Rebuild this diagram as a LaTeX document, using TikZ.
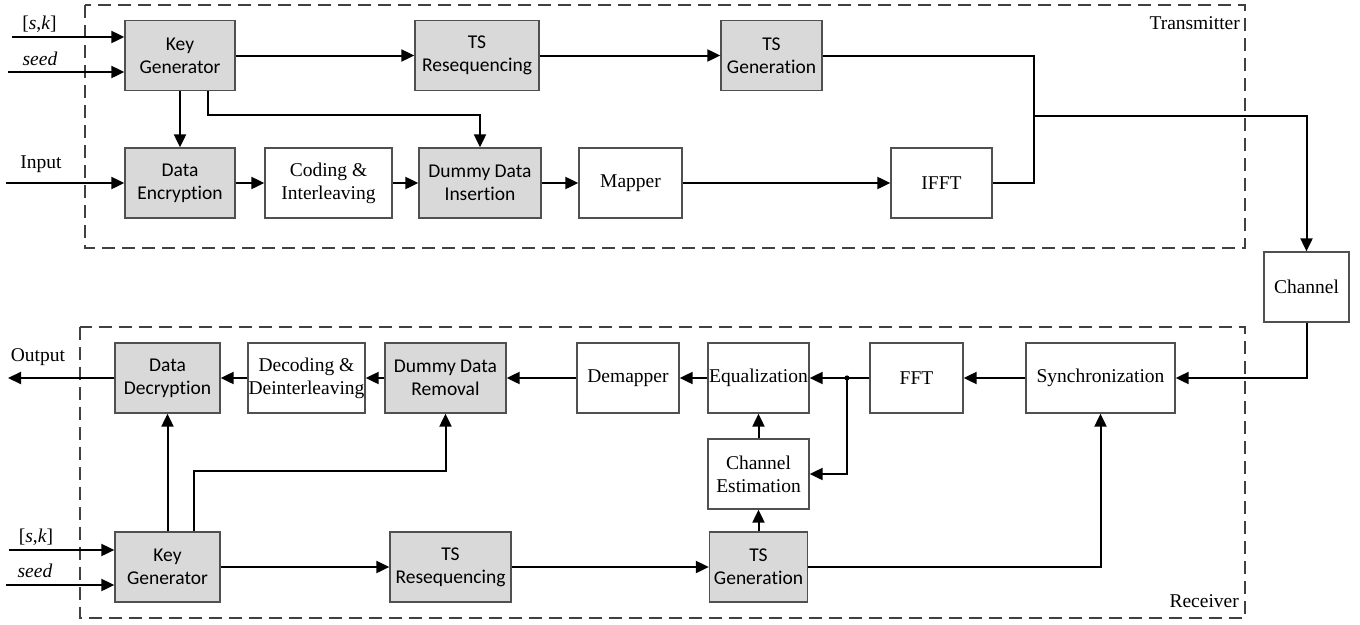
\documentclass[tikz,border=0pt]{standalone}
\usepackage{fontspec}
\setmainfont{Liberation Serif}
\newfontfamily\calfont[Ligatures={NoCommon}]{Carlito}
\usetikzlibrary{arrows.meta,calc}
\definecolor{boxc}{HTML}{505050}
\definecolor{grayf}{HTML}{D9D9D9}
\definecolor{dashc}{HTML}{404040}
\begin{document}
\begin{tikzpicture}[x=1pt,y=-1pt,
  box/.style={draw=boxc, line width=1.3pt, minimum height=70pt, inner sep=0pt, align=center, fill=white,
    font=\fontsize{19.5}{23}\selectfont},
  gbox/.style={box, fill=grayf, font=\calfont\fontsize{19.5}{23}\selectfont},
  arr/.style={line width=2pt, -{Triangle[length=13pt,width=12pt]}},
  ln/.style={line width=2pt},
  frame/.style={draw=dashc, line width=1.5pt, dash pattern=on 13pt off 7pt},
  lab/.style={font=\fontsize{19.5}{23}\selectfont, inner sep=0pt}]
\useasboundingbox (0,0) rectangle (1360,624);

% frames
\draw[frame] (85,5) rectangle (1245,248);
\draw[frame] (80,327) rectangle (1245,618);
\node[lab, anchor=base east] (tx) at (1240,29) {Transmitter};
\node[lab, anchor=base east] (rx) at (1239,607) {Receiver};

% transmitter nodes
\node[gbox, minimum width=110pt] (kg1) at (180,55.5) {Key\\Generator};
\node[gbox, minimum width=110pt] (de1) at (180,183) {Data\\Encryption};
\node[box, minimum width=127pt] (ci) at (328.5,183) {Coding \&\\Interleaving};
\node[gbox, minimum width=124pt] (tsr1) at (477,55.5) {TS\\Resequencing};
\node[gbox, minimum width=101pt] (tsg1) at (771.5,55.5) {TS\\Generation};
\node[gbox, minimum width=122pt] (ddi) at (480,183) {Dummy Data\\Insertion};
\node[box, minimum width=103pt] (map) at (630.5,183) {Mapper};
\node[box, minimum width=101pt] (ifft) at (941.5,183) {IFFT};
\node[box, minimum width=85pt] (chan) at (1306.5,287) {Channel};

% receiver nodes
\node[gbox, minimum width=105pt] (dd) at (167.5,378) {Data\\Decryption};
\node[box, minimum width=117pt] (ddl) at (306.5,378) {Decoding \&\\Deinterleaving};
\node[gbox, minimum width=121pt] (ddr) at (445.5,378) {Dummy Data\\Removal};
\node[box, minimum width=102pt] (dem) at (628,378) {Demapper};
\node[box, minimum width=101pt] (eq) at (758.5,378) {Equalization};
\node[box, minimum width=93pt] (fft) at (916.5,378) {FFT};
\node[box, minimum width=149pt] (sync) at (1100.5,378) {Synchronization};
\node[box, minimum width=101pt] (ce) at (758.5,474) {Channel\\Estimation};
\node[gbox, minimum width=98pt] (tsg2) at (758.5,567) {TS\\Generation};
\node[gbox, minimum width=121pt] (tsr2) at (450.5,567) {TS\\Resequencing};
\node[gbox, minimum width=105pt] (kg2) at (167.5,567) {Key\\Generator};

% labels
\node[lab, anchor=base] (l1) at (39.5,29) {[\textit{s},\textit{k}]};
\node[lab, anchor=base] (l2) at (40,65) {\textit{seed}};
\node[lab, anchor=base] (l3) at (41,168) {Input};
\node[lab, anchor=base] (l4) at (38,361) {Output};
\node[lab, anchor=base] (l5) at (36,542) {[\textit{s},\textit{k}]};
\node[lab, anchor=base] (l6) at (35,577) {\textit{seed}};

% free ends
\coordinate (sk1) at (12,37);
\coordinate (sd1) at (8,72);
\coordinate (in1) at (6,183);
\coordinate (jt) at (1034,116);
\coordinate (out) at (8,378);
\coordinate (sk2) at (9,550);
\coordinate (sd2) at (6,585);
\coordinate (jr) at (847,378);

% transmitter connectors
\draw[arr] (sk1) -- (sk1 -| kg1.west);
\draw[arr] (sd1) -- (sd1 -| kg1.west);
\draw[arr] (in1) -- (de1.west);
\draw[arr] (kg1.east) -- (tsr1.west);
\draw[arr] (tsr1.east) -- (tsg1.west);
\draw[arr] (kg1.south) -- (de1.north);
\draw[arr] ([xshift=28pt]kg1.south) -- ++(0,24) -| (ddi.north);
\draw[arr] (de1.east) -- (ci.west);
\draw[arr] (ci.east) -- (ddi.west);
\draw[arr] (ddi.east) -- (map.west);
\draw[arr] (map.east) -- (ifft.west);
\draw[ln] (tsg1.east) -| (jt);
\draw[ln] (ifft.east) -| (jt);
\draw[arr] (jt) -| (chan.north);
\draw[arr] (chan.south) |- (sync.east);

% receiver connectors
\draw[arr] (sync.west) -- (fft.east);
\draw[arr] (fft.west) -- (eq.east);
\fill (jr) circle (2.6pt);
\draw[arr] (jr) |- (ce.east);
\draw[arr] (ce.north) -- (eq.south);
\draw[arr] (tsg2.north) -- (ce.south);
\draw[arr] (eq.west) -- (dem.east);
\draw[arr] (dem.west) -- (ddr.east);
\draw[arr] (ddr.west) -- (ddl.east);
\draw[arr] (ddl.west) -- (dd.east);
\draw[arr] (dd.west) -- (out);
\draw[arr] (sk2) -- (sk2 -| kg2.west);
\draw[arr] (sd2) -- (sd2 -| kg2.west);
\draw[arr] (kg2.east) -- (tsr2.west);
\draw[arr] (tsr2.east) -- (tsg2.west);
\draw[arr] (tsg2.east) -| (sync.south);
\draw[arr] (kg2.north) -- (dd.south);
\draw[arr] ([xshift=26.5pt]kg2.north) -- ++(0,-60) -| (ddr.south);
\end{tikzpicture}
\end{document}
